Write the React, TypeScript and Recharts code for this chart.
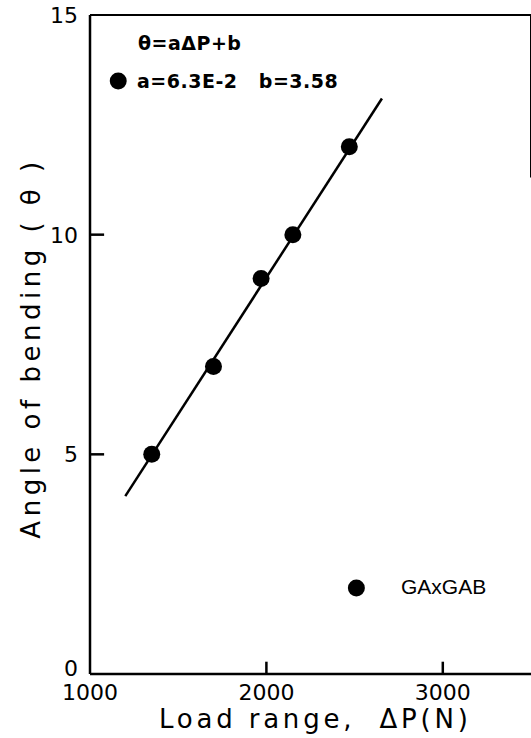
import { ReferenceLine, Scatter, ScatterChart, XAxis, YAxis } from "recharts";

const FONT = "'DejaVu Sans', sans-serif";
const INK = "#000";

// measured points: load range (N) vs bending angle
const loadRange = [1350, 1700, 1970, 2150, 2470];
const bendAngle = [5, 7, 9, 10, 12];

// fitted line end points
const fitX = [1200, 2655];
const fitY = [4.05, 13.1];

const xTicks = [1000, 2000, 3000];
const yTicks = [0, 5, 10, 15];
// only these carry an inward tick mark
const xMarked = [2000, 3000];
const yMarked = [5, 10];

const points = loadRange.map((x, i) => ({ x, y: bendAngle[i] }));
const fitLine = fitX.map((x, i) => ({ x, y: fitY[i] }));
const legendTop = [{ x: 1160, y: 13.5 }];
const legendBottom = [{ x: 2510, y: 1.96 }];

const LEFT = 90;
const BOTTOM = 674;

const YTick = (p: any) => {
  const v = p.payload.value;
  return (
    <text x={LEFT - 12} y={v === 0 ? p.y + 2 : p.y + 8} textAnchor="end" fontSize={22} fontFamily={FONT} fill={INK}>
      {v}
    </text>
  );
};

const XTick = (p: any) => (
  <text x={p.x} y={BOTTOM + 26} textAnchor="middle" fontSize={22} fontFamily={FONT} fill={INK}>
    {p.payload.value}
  </text>
);

const dot = (p: any) => <circle cx={p.cx} cy={p.cy} r={8.5} fill={INK} />;
const noDot = () => <g />;
const tickLine = { stroke: INK, strokeWidth: 2.5 };

export default function App() {
  return (
    <div style={{ position: "absolute", left: 0, top: 0, width: 531, height: 738, background: "#fff" }}>
      <ScatterChart width={531} height={738} margin={{ top: 15, right: 0, bottom: 0, left: 2 }}>
        <XAxis type="number" dataKey="x" domain={[1000, 3500]} ticks={xTicks} height={64}
               axisLine={{ stroke: INK, strokeWidth: 2.5 }} tickLine={false} tick={<XTick />} />
        <YAxis type="number" dataKey="y" domain={[0, 15]} ticks={yTicks} width={88}
               axisLine={{ stroke: INK, strokeWidth: 2.5 }} tickLine={false} tick={<YTick />} />
        <ReferenceLine y={15} stroke={INK} strokeWidth={2} />
        <ReferenceLine segment={[{ x: 3500, y: 15 }, { x: 3500, y: 11.3 }]} stroke={INK} strokeWidth={2} />
        {yMarked.map((v) => (
          <Scatter key={"y" + v} data={[{ x: 1000, y: v }, { x: 1080, y: v }]} line={tickLine}
                   shape={noDot} isAnimationActive={false} />
        ))}
        {xMarked.map((v) => (
          <Scatter key={"x" + v} data={[{ x: v, y: 0 }, { x: v, y: 0.28 }]} line={tickLine}
                   shape={noDot} isAnimationActive={false} />
        ))}
        <Scatter data={fitLine} line={{ stroke: INK, strokeWidth: 2.5 }} shape={noDot} isAnimationActive={false} />
        <Scatter data={points} shape={dot} isAnimationActive={false} />
        <Scatter data={legendTop} shape={dot} isAnimationActive={false} />
        <Scatter data={legendBottom} shape={dot} isAnimationActive={false} />
      </ScatterChart>
      <div style={{ position: "absolute", left: 138, top: 32, fontFamily: FONT, fontSize: 19, fontWeight: "bold", letterSpacing: 0.5, whiteSpace: "pre" }}>
        θ=aΔP+b
      </div>
      <div style={{ position: "absolute", left: 137, top: 70, fontFamily: FONT, fontSize: 19, fontWeight: "bold", letterSpacing: 0.5, whiteSpace: "pre" }}>
        a=6.3E-2   b=3.58
      </div>
      <div style={{ position: "absolute", left: 401, top: 575, fontFamily: "'Liberation Sans', sans-serif", fontSize: 21, whiteSpace: "pre" }}>
        GAxGAB
      </div>
      <div style={{ position: "absolute", left: 159, top: 704, fontFamily: FONT, fontSize: 26, letterSpacing: 3.8, whiteSpace: "pre" }}>
        Load range,  ΔP(N)
      </div>
      <div style={{ position: "absolute", left: 31, top: 348, width: 0, height: 0 }}>
        <div style={{ position: "absolute", transform: "translate(-50%, -50%) rotate(-90deg)", fontFamily: FONT, fontSize: 26, letterSpacing: 4.5, whiteSpace: "pre" }}>
          Angle of bending ( θ )
        </div>
      </div>
    </div>
  );
}
